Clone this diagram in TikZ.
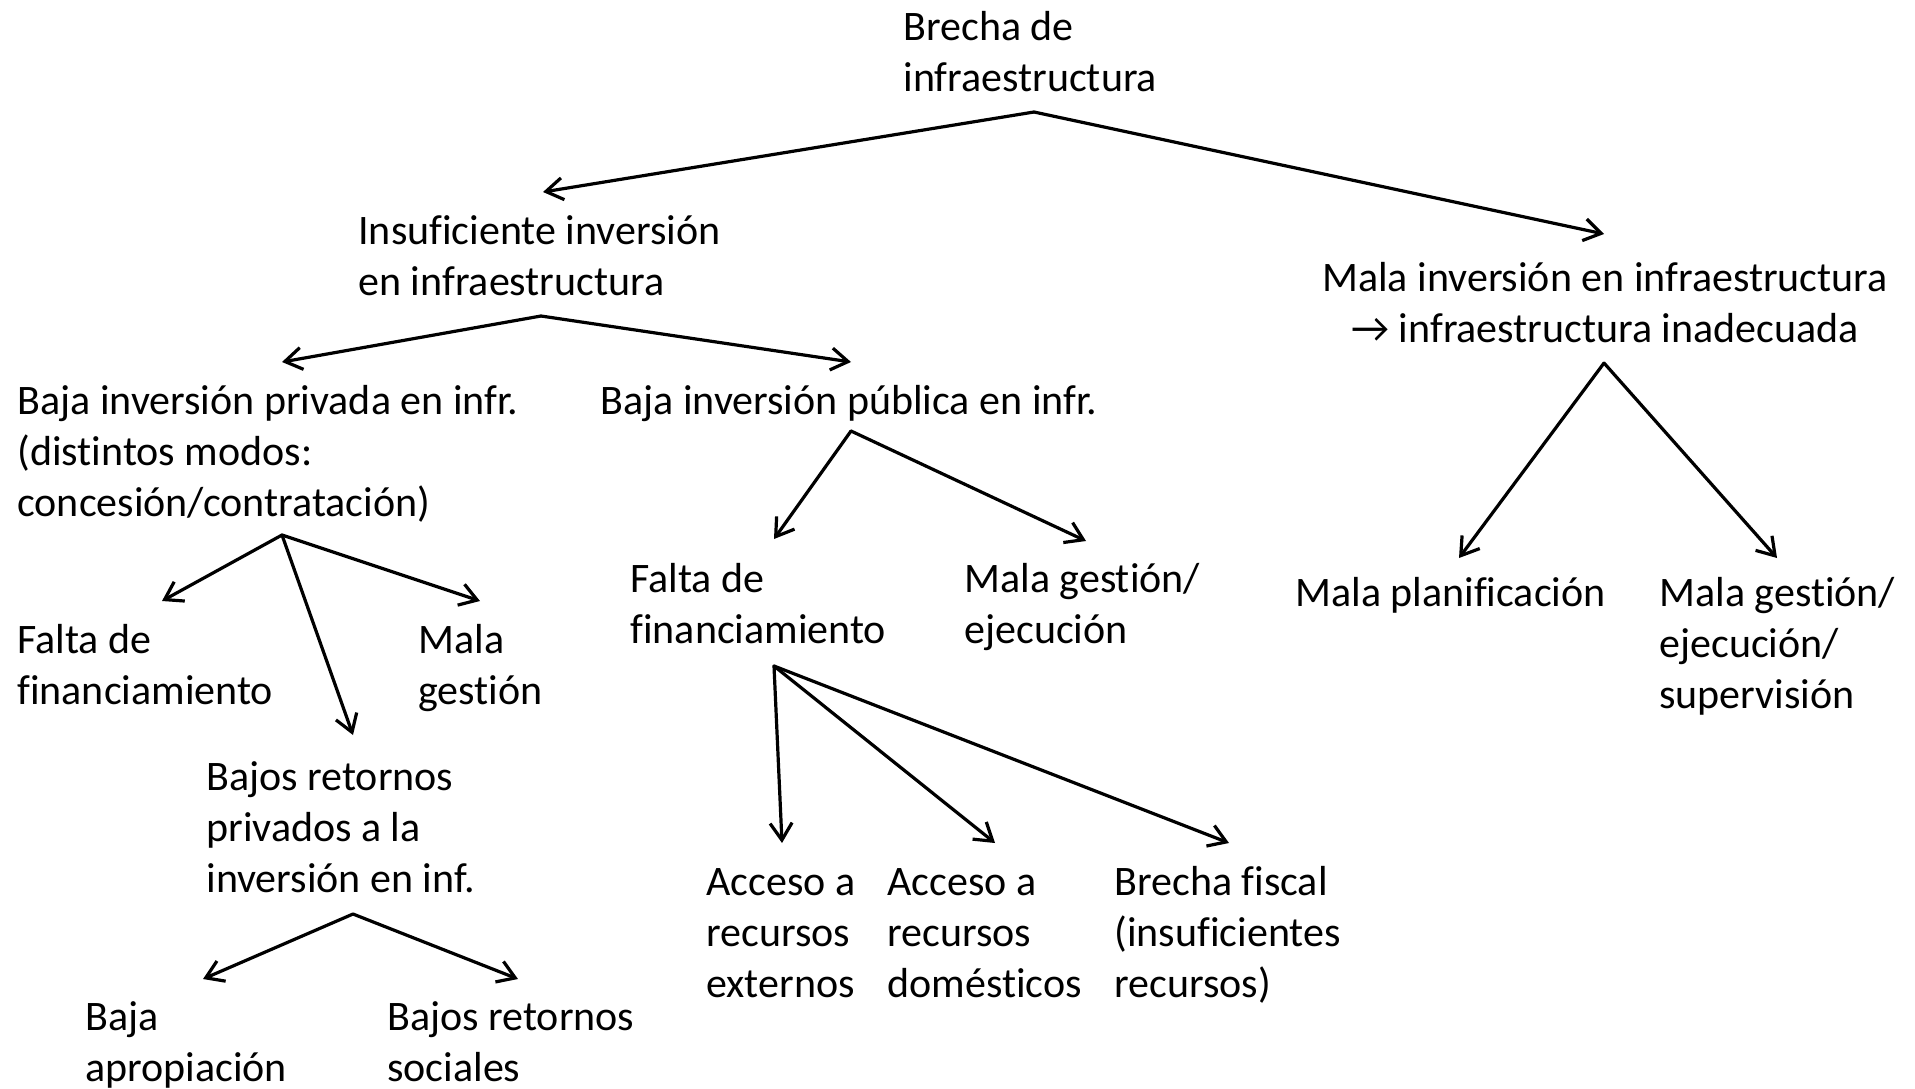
\documentclass[tikz,border=0pt]{standalone}
\usepackage{fontspec}
\setmainfont{Carlito}[Ligatures=NoCommon]
\usetikzlibrary{arrows.meta}
\begin{document}
\begin{tikzpicture}[x=0.5pt,y=-0.5pt,
  lbl/.style={anchor=base west, inner sep=0pt, align=left, font=\fontsize{21}{25.5}\selectfont},
  lblc/.style={anchor=base, inner sep=0pt, align=center, font=\fontsize{21}{25.5}\selectfont},
  arr/.style={-{Straight Barb[length=8.5pt,width=11pt]}, line width=1.6pt, line cap=round, line join=round}]
\useasboundingbox (0,0) rectangle (1915,1088);

% texts (anchored at the baseline of their last line)
\node[lbl] (brecha) at (903,91) {Brecha de\\infraestructura};
\node[lbl] (insuf) at (358,295) {Insuficiente inversión\\en infraestructura};
\node[lblc] (malainv) at (1605,342) {Mala inversión en infraestructura\\→ infraestructura inadecuada};
\node[lbl] (bpriv) at (17,516) {Baja inversión privada en infr.\\(distintos modos:\\concesión/contratación)};
\node[lbl] (bpub) at (600,414) {Baja inversión pública en infr.};
\node[lbl] (mplan) at (1295,606) {Mala planificación};
\node[lbl] (mgej) at (1659,708) {Mala gestión/\\ejecución/\\supervisión};
\node[lbl] (fin2) at (630,643) {Falta de\\financiamiento};
\node[lbl] (mg2) at (964,643) {Mala gestión/\\ejecución};
\node[lbl] (fin1) at (17,704) {Falta de\\financiamiento};
\node[lbl] (mg1) at (418,704) {Mala\\gestión};
\node[lbl] (bret) at (206,892) {Bajos retornos\\privados a la\\inversión en inf.};
\node[lbl] (acc1) at (706,997) {Acceso a\\recursos\\externos};
\node[lbl] (acc2) at (887,997) {Acceso a\\recursos\\domésticos};
\node[lbl] (bfis) at (1114,997) {Brecha fiscal\\(insuficientes\\recursos)};
\node[lbl] (bapr) at (85,1081) {Baja\\apropiación};
\node[lbl] (bsoc) at (387,1081) {Bajos retornos\\sociales};

% junction and tip coordinates
\coordinate (j0) at (1034,112);
\coordinate (t0a) at (543,192);
\coordinate (t0b) at (1604,234);
\coordinate (j1) at (541,316);
\coordinate (t1a) at (282,362);
\coordinate (t1b) at (851,362);
\coordinate (j2) at (851,431);
\coordinate (t2a) at (774,539);
\coordinate (t2b) at (1086,541);
\coordinate (j3) at (1604,363);
\coordinate (t3a) at (1459,558);
\coordinate (t3b) at (1777,558);
\coordinate (j4) at (282,535);
\coordinate (t4a) at (162,601);
\coordinate (t4b) at (353,735);
\coordinate (t4c) at (480,601);
\coordinate (j5) at (774,666);
\coordinate (t5a) at (782,843);
\coordinate (t5b) at (995,843);
\coordinate (t5c) at (1229,843);
\coordinate (j6) at (353,914);
\coordinate (t6a) at (203,979);
\coordinate (t6b) at (518,979);

\draw[arr] (j0) -- (t0a);
\draw[arr] (j0) -- (t0b);
\draw[arr] (j1) -- (t1a);
\draw[arr] (j1) -- (t1b);
\draw[arr] (j2) -- (t2a);
\draw[arr] (j2) -- (t2b);
\draw[arr] (j3) -- (t3a);
\draw[arr] (j3) -- (t3b);
\draw[arr] (j4) -- (t4a);
\draw[arr] (j4) -- (t4b);
\draw[arr] (j4) -- (t4c);
\draw[arr] (j5) -- (t5a);
\draw[arr] (j5) -- (t5b);
\draw[arr] (j5) -- (t5c);
\draw[arr] (j6) -- (t6a);
\draw[arr] (j6) -- (t6b);
\end{tikzpicture}
\end{document}
